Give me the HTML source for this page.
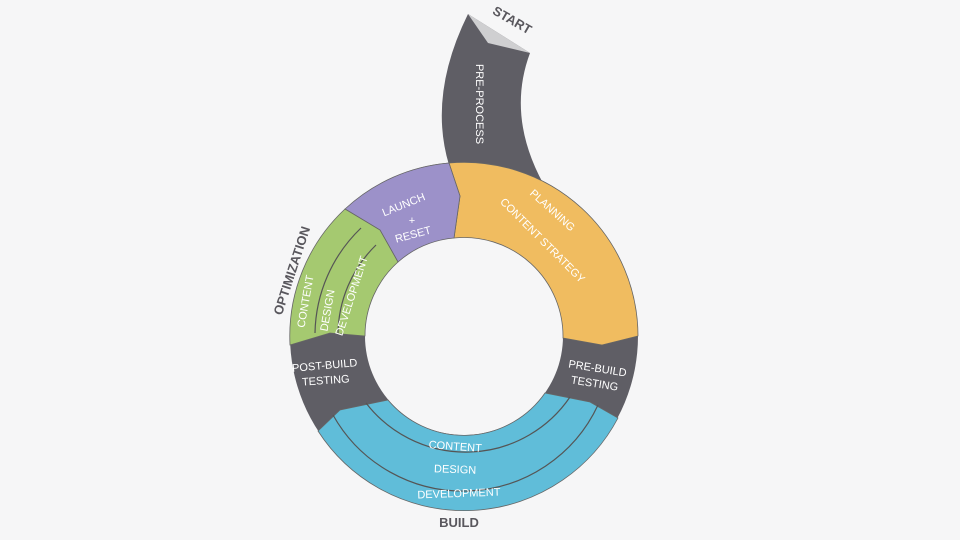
<!DOCTYPE html>
<html><head><style>
body{margin:0;background:#f6f6f7;}
svg{display:block}
text{font-family:"Liberation Sans",sans-serif;fill:#fff;font-size:11px;text-anchor:middle}
.d{fill:#59575d;font-weight:bold;font-size:13px}
</style></head><body>
<svg width="960" height="540" viewBox="0 0 960 540">
<rect width="960" height="540" fill="#f6f6f7"/>
<!-- tail -->
<path d="M468,14 L530,53 Q505,120 548,192 L449,165 Q428,95 468,14Z" fill="#5f5e65"/>
<path d="M468,14 L530,53 L488,43Z" fill="#cfcfd1"/>
<!-- ring base -->
<path fill-rule="evenodd" d="M290,336 A174,174 0 1 0 638,336 A174,174 0 1 0 290,336Z M365,336 A99,99 0 1 0 563,336 A99,99 0 1 0 365,336Z" fill="#5f5e65"/>
<!-- planning -->
<path d="M449,163 A174,174 0 0 1 638,336 L602,345 L563,338 A99,99 0 0 0 454,238 L460,196Z" fill="#f0bc60" stroke="#666" stroke-width="0.8"/>
<!-- launch -->
<path d="M345,209 A174,174 0 0 1 449,163 L460,196 L454,238 A99,99 0 0 0 398,262 L380,230Z" fill="#9c91c9" stroke="#666" stroke-width="0.8"/>
<!-- optimization -->
<path d="M290,345 A174,174 0 0 1 345,209 L380,230 L398,262 A99,99 0 0 0 365,336 L330,333Z" fill="#a5c970" stroke="#666" stroke-width="0.8"/>
<path d="M315,333 A149,149 0 0 1 361,228" fill="none" stroke="#555" stroke-width="1.2"/>
<path d="M338,335 A126,126 0 0 1 376,245" fill="none" stroke="#555" stroke-width="1.2"/>
<!-- build -->
<path d="M618,418 A174,174 0 0 1 318,431 L340,410 L388,400 A99,99 0 0 0 545,393 L590,402Z" fill="#60bdd9" stroke="#666" stroke-width="0.8"/>
<path d="M333,415 A149,149 0 0 0 598,405" fill="none" stroke="#555" stroke-width="1.2"/>
<path d="M366,403 A126,126 0 0 0 570,397" fill="none" stroke="#555" stroke-width="1.2"/>
<!-- labels -->
<text class="d" transform="translate(510,24) rotate(30)">START</text>
<text class="d" transform="translate(296,272) rotate(-72)">OPTIMIZATION</text>
<text class="d" x="459" y="527">BUILD</text>
<text transform="translate(476,104) rotate(90)">PRE-PROCESS</text>
<text transform="translate(550,213) rotate(42)">PLANNING</text>
<text transform="translate(540,243) rotate(45)">CONTENT STRATEGY</text>
<text transform="translate(405,208) rotate(-22)">LAUNCH</text>
<text x="412" y="224">+</text>
<text transform="translate(414,238) rotate(-15)">RESET</text>
<text transform="translate(309,302) rotate(-80)">CONTENT</text>
<text transform="translate(331,311) rotate(-80)">DESIGN</text>
<text transform="translate(355,297) rotate(-72)">DEVELOPMENT</text>
<text transform="translate(325,369) rotate(-5)">POST-BUILD</text>
<text transform="translate(326,384) rotate(-4)">TESTING</text>
<text transform="translate(597,372) rotate(9)">PRE-BUILD</text>
<text transform="translate(594,387) rotate(9)">TESTING</text>
<text transform="translate(455,450) rotate(4)">CONTENT</text>
<text transform="translate(455,473) rotate(2)">DESIGN</text>
<text transform="translate(459,497) rotate(-2)">DEVELOPMENT</text>
</svg>
</body></html>
